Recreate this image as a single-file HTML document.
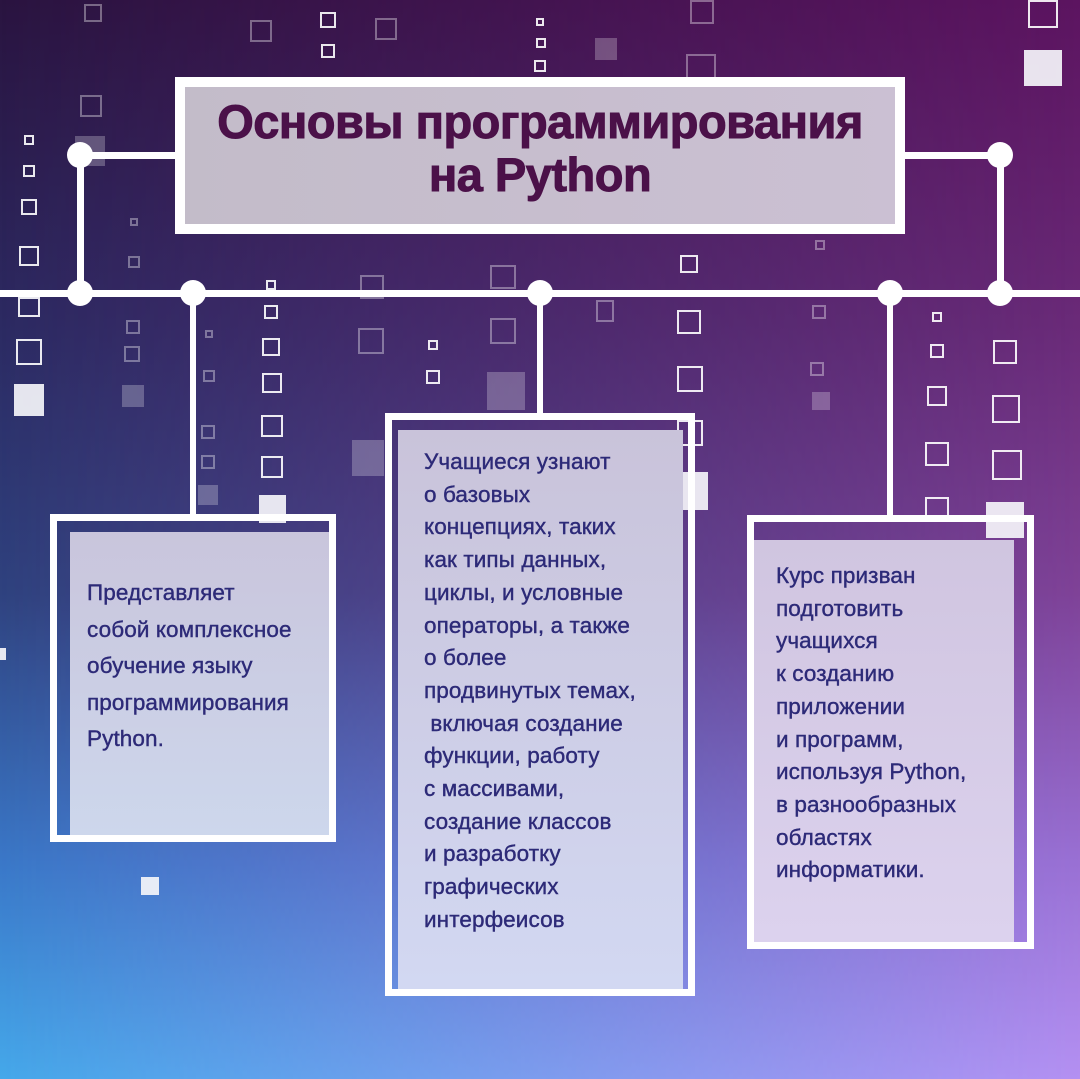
<!DOCTYPE html>
<html><head><meta charset="utf-8"><style>
html,body{margin:0;padding:0}
body{width:1080px;height:1079px;position:relative;overflow:hidden;font-family:"Liberation Sans","DejaVu Sans",sans-serif;background:#3a2a70}
.bgl{position:absolute;inset:0;background:linear-gradient(180deg,#2a1440 0%,#2c2a62 30%,#2f427f 55%,#3a78c8 80%,#45a8ea 100%)}
.bgr{position:absolute;inset:0;background:linear-gradient(180deg,#5c1460 0%,#6a2a78 30%,#7f4298 55%,#9a70d4 80%,#b490f2 100%);
 -webkit-mask-image:linear-gradient(90deg,rgba(0,0,0,0) 0%,rgba(0,0,0,0.5) 50%,#000 100%);mask-image:linear-gradient(90deg,rgba(0,0,0,0) 0%,rgba(0,0,0,0.5) 50%,#000 100%)}
.l{position:absolute;background:#fff}
.d{position:absolute;width:26px;height:26px;border-radius:50%;background:#fff;margin:-13px 0 0 -13px}
.sq{position:absolute;border:2px solid rgba(255,255,255,0.9);box-sizing:border-box}
.sf{position:absolute;background:rgba(255,255,255,0.25)}
.fw{position:absolute;background:rgba(245,245,250,0.92)}
.frame{position:absolute;border:7px solid #fff;box-sizing:border-box}
.panel{position:absolute;background:linear-gradient(180deg,#c9c5dc,#cdd7ec)}
.t{position:absolute;color:#2d2a78;font-size:22.5px;white-space:pre;letter-spacing:0.1px;-webkit-text-stroke:0.4px #2d2a78}
</style></head><body>
<div class="bgl"></div><div class="bgr"></div>

<div class="sq" style="left:24px;top:135px;width:10px;height:10px"></div>
<div class="sq" style="left:23px;top:165px;width:12px;height:12px"></div>
<div class="sq" style="left:21px;top:199px;width:16px;height:16px"></div>
<div class="sq" style="left:19px;top:246px;width:20px;height:20px"></div>
<div class="sq" style="left:18px;top:297px;width:22px;height:20px"></div>
<div class="sq" style="left:16px;top:339px;width:26px;height:26px"></div>
<div class="fw" style="left:14px;top:384px;width:30px;height:32px"></div>
<div class="sq" style="left:84px;top:4px;width:18px;height:18px;opacity:.4"></div>
<div class="sq" style="left:80px;top:95px;width:22px;height:22px;opacity:.4"></div>
<div class="sf" style="left:75px;top:136px;width:30px;height:30px"></div>
<div class="sq" style="left:130px;top:218px;width:8px;height:8px;opacity:.4"></div>
<div class="sq" style="left:128px;top:256px;width:12px;height:12px;opacity:.4"></div>
<div class="sq" style="left:126px;top:320px;width:14px;height:14px;opacity:.4"></div>
<div class="sq" style="left:124px;top:346px;width:16px;height:16px;opacity:.4"></div>
<div class="sf" style="left:122px;top:385px;width:22px;height:22px"></div>
<div class="sq" style="left:205px;top:330px;width:8px;height:8px;opacity:.4"></div>
<div class="sq" style="left:203px;top:370px;width:12px;height:12px;opacity:.4"></div>
<div class="sq" style="left:201px;top:425px;width:14px;height:14px;opacity:.4"></div>
<div class="sq" style="left:201px;top:455px;width:14px;height:14px;opacity:.4"></div>
<div class="sf" style="left:198px;top:485px;width:20px;height:20px"></div>
<div class="sq" style="left:266px;top:280px;width:10px;height:10px"></div>
<div class="sq" style="left:264px;top:305px;width:14px;height:14px"></div>
<div class="sq" style="left:262px;top:338px;width:18px;height:18px"></div>
<div class="sq" style="left:262px;top:373px;width:20px;height:20px"></div>
<div class="sq" style="left:261px;top:415px;width:22px;height:22px"></div>
<div class="sq" style="left:261px;top:456px;width:22px;height:22px"></div>
<div class="fw" style="left:259px;top:495px;width:27px;height:28px"></div>
<div class="sq" style="left:320px;top:12px;width:16px;height:16px"></div>
<div class="sq" style="left:321px;top:44px;width:14px;height:14px"></div>
<div class="sq" style="left:250px;top:20px;width:22px;height:22px;opacity:.4"></div>
<div class="fw" style="left:316px;top:152px;width:27px;height:28px"></div>
<div class="sq" style="left:375px;top:18px;width:22px;height:22px;opacity:.4"></div>
<div class="sq" style="left:360px;top:275px;width:24px;height:24px;opacity:.4"></div>
<div class="sq" style="left:358px;top:328px;width:26px;height:26px;opacity:.4"></div>
<div class="sf" style="left:352px;top:440px;width:32px;height:36px"></div>
<div class="sq" style="left:428px;top:340px;width:10px;height:10px"></div>
<div class="sq" style="left:426px;top:370px;width:14px;height:14px"></div>
<div class="sq" style="left:490px;top:265px;width:26px;height:24px;opacity:.4"></div>
<div class="sq" style="left:490px;top:318px;width:26px;height:26px;opacity:.4"></div>
<div class="sf" style="left:487px;top:372px;width:38px;height:38px"></div>
<div class="sq" style="left:536px;top:18px;width:8px;height:8px"></div>
<div class="sq" style="left:536px;top:38px;width:10px;height:10px"></div>
<div class="sq" style="left:534px;top:60px;width:12px;height:12px"></div>
<div class="sq" style="left:534px;top:88px;width:12px;height:12px"></div>
<div class="sf" style="left:595px;top:38px;width:22px;height:22px"></div>
<div class="sq" style="left:690px;top:0px;width:24px;height:24px;opacity:.4"></div>
<div class="sq" style="left:686px;top:54px;width:30px;height:30px;opacity:.4"></div>
<div class="sq" style="left:680px;top:255px;width:18px;height:18px"></div>
<div class="sq" style="left:677px;top:310px;width:24px;height:24px"></div>
<div class="sq" style="left:677px;top:366px;width:26px;height:26px"></div>
<div class="sq" style="left:677px;top:420px;width:26px;height:26px"></div>
<div class="fw" style="left:672px;top:472px;width:36px;height:38px"></div>
<div class="sq" style="left:596px;top:300px;width:18px;height:22px;opacity:.4"></div>
<div class="sq" style="left:815px;top:218px;width:12px;height:12px;opacity:.4"></div>
<div class="sq" style="left:815px;top:240px;width:10px;height:10px;opacity:.4"></div>
<div class="sq" style="left:812px;top:305px;width:14px;height:14px;opacity:.4"></div>
<div class="sq" style="left:810px;top:362px;width:14px;height:14px;opacity:.4"></div>
<div class="sf" style="left:812px;top:392px;width:18px;height:18px"></div>
<div class="sq" style="left:932px;top:312px;width:10px;height:10px"></div>
<div class="sq" style="left:930px;top:344px;width:14px;height:14px"></div>
<div class="sq" style="left:927px;top:386px;width:20px;height:20px"></div>
<div class="sq" style="left:925px;top:442px;width:24px;height:24px"></div>
<div class="sq" style="left:925px;top:497px;width:24px;height:24px"></div>
<div class="fw" style="left:918px;top:605px;width:38px;height:38px"></div>
<div class="sq" style="left:993px;top:340px;width:24px;height:24px"></div>
<div class="sq" style="left:992px;top:395px;width:28px;height:28px"></div>
<div class="sq" style="left:992px;top:450px;width:30px;height:30px"></div>
<div class="fw" style="left:986px;top:502px;width:38px;height:36px"></div>
<div class="sq" style="left:1028px;top:0px;width:30px;height:28px"></div>
<div class="fw" style="left:1024px;top:50px;width:38px;height:36px"></div>
<div class="fw" style="left:141px;top:877px;width:18px;height:18px"></div>
<div class="fw" style="left:0px;top:648px;width:6px;height:12px"></div>

<div class="l" style="left:0;top:290px;width:1080px;height:7px"></div>
<div class="l" style="left:80px;top:152px;width:100px;height:7px"></div>
<div class="l" style="left:900px;top:152px;width:100px;height:7px"></div>
<div class="l" style="left:77px;top:155px;width:7px;height:138px"></div>
<div class="l" style="left:997px;top:155px;width:7px;height:138px"></div>
<div class="l" style="left:190px;top:293px;width:6px;height:222px"></div>
<div class="l" style="left:537px;top:293px;width:6px;height:122px"></div>
<div class="l" style="left:887px;top:293px;width:6px;height:224px"></div>
<div class="d" style="left:80px;top:155px"></div>
<div class="d" style="left:1000px;top:155px"></div>
<div class="d" style="left:80px;top:293px"></div>
<div class="d" style="left:193px;top:293px"></div>
<div class="d" style="left:540px;top:293px"></div>
<div class="d" style="left:890px;top:293px"></div>
<div class="d" style="left:1000px;top:293px"></div>

<div class="frame" style="left:175px;top:77px;width:730px;height:157px;border-width:10px;background:linear-gradient(90deg,#c3bcc9,#cbc0d3)"></div>
<div style="position:absolute;left:175px;top:95px;width:730px;text-align:center;color:#4b1149;font-weight:bold;font-size:47px;line-height:53px;letter-spacing:-0.5px;-webkit-text-stroke:1px #4b1149">Основы программирования<br>на Python</div>

<div class="frame" style="left:50px;top:514px;width:286px;height:328px"></div>
<div class="panel" style="left:70px;top:532px;width:259px;height:303px"></div>
<div class="t" style="left:87px;top:575px;line-height:36.6px">Представляет
собой комплексное
обучение языку
программирования
Python.</div>

<div class="frame" style="left:385px;top:413px;width:310px;height:583px"></div>
<div class="panel" style="left:398px;top:430px;width:285px;height:559px;background:linear-gradient(180deg,#c9c3da,#d2d8f2)"></div>
<div class="t" style="left:424px;top:446px;line-height:32.7px">Учащиеся узнают
о базовых
концепциях, таких
как типы данных,
циклы, и условные
операторы, а также
о более
продвинутых темах,
 включая создание
функции, работу
с массивами,
создание классов
и разработку
графических
интерфеисов</div>

<div class="frame" style="left:747px;top:515px;width:287px;height:434px"></div>
<div class="panel" style="left:754px;top:540px;width:260px;height:402px;background:linear-gradient(180deg,#d0c5e0,#dcd2ee)"></div>
<div class="t" style="left:776px;top:560px;line-height:32.7px">Курс призван
подготовить
учащихся
к созданию
приложении
и программ,
используя Python,
в разнообразных
областях
информатики.</div>
</body></html>
